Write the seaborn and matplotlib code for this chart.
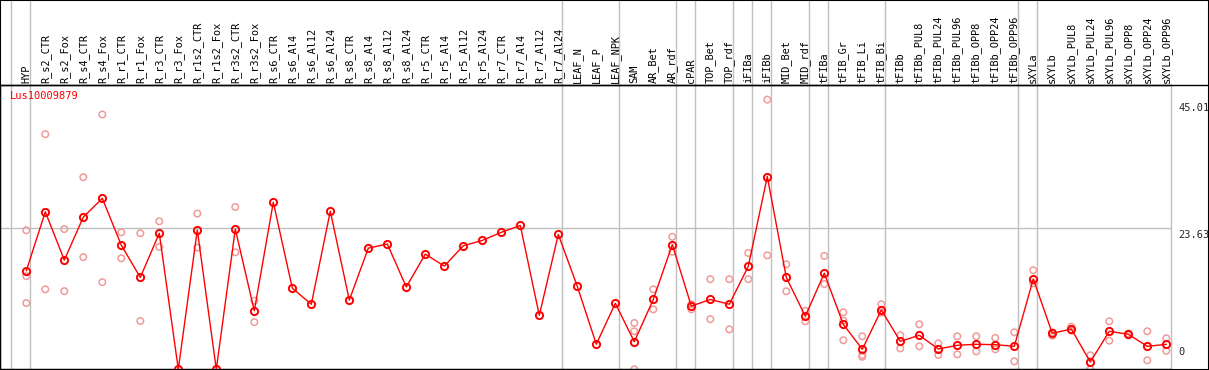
import numpy as np
import pandas as pd
import matplotlib
matplotlib.use("Agg")
import matplotlib.pyplot as plt
import matplotlib.transforms as mtransforms
from matplotlib.patches import Rectangle
import seaborn as sns

gene = "Lus10009879"

categories = [
    "HYP", "R_s2_CTR", "R_s2_Fox", "R_s4_CTR", "R_s4_Fox", "R_r1_CTR", "R_r1_Fox",
    "R_r3_CTR", "R_r3_Fox", "R_r1s2_CTR", "R_r1s2_Fox", "R_r3s2_CTR", "R_r3s2_Fox",
    "R_s6_CTR", "R_s6_Al4", "R_s6_Al12", "R_s6_Al24", "R_s8_CTR", "R_s8_Al4",
    "R_s8_Al12", "R_s8_Al24", "R_r5_CTR", "R_r5_Al4", "R_r5_Al12", "R_r5_Al24",
    "R_r7_CTR", "R_r7_Al4", "R_r7_Al12", "R_r7_Al24", "LEAF_N", "LEAF_P", "LEAF_NPK",
    "SAM", "AR_Bet", "AR_rdf", "cPAR", "TOP_Bet", "TOP_rdf", "iFIBa", "iFIBb",
    "MID_Bet", "MID_rdf", "tFIBa", "tFIB_Gr", "tFIB_Li", "tFIB_Bi", "tFIBb",
    "tFIBb_PUL8", "tFIBb_PUL24", "tFIBb_PUL96", "tFIBb_OPP8", "tFIBb_OPP24",
    "tFIBb_OPP96", "sXYLa", "sXYLb", "sXYLb_PUL8", "sXYLb_PUL24", "sXYLb_PUL96",
    "sXYLb_OPP8", "sXYLb_OPP24", "sXYLb_OPP96",
]

mean_expr = [
    16.5, 26.4, 18.3, 25.5, 28.65, 20.8, 15.4, 22.8, 0.0, 23.35, 0.0, 23.5, 9.8,
    28.0, 13.6, 10.9, 26.5, 11.6, 20.3, 21.0, 13.8, 19.3, 17.3, 20.7, 21.6,
    22.96, 24.1, 9.05, 22.6, 13.9, 4.2, 11.06,
    4.63, 11.7, 20.9, 10.6, 11.7, 10.9, 17.26, 32.3,
    15.4, 8.9, 16.1, 7.54, 3.35, 9.94, 4.69,
    5.7, 3.4, 4.02, 4.19, 4.13,
    3.85, 15.13, 6.03, 6.75, 1.22, 6.37,
    5.87, 3.85, 4.19,
]

nan = np.nan
rep1 = [
    23.3, 39.4, 23.5, 32.2, 42.7, 22.96, 22.8, 24.8, nan, 26.1, nan, 27.2, 11.5,
    nan, nan, nan, nan, nan, nan, nan, nan, nan, nan, nan, nan,
    nan, nan, nan, nan, nan, nan, nan,
    7.76, 13.4, 22.2, 10.9, 15.1, 15.1, 19.5, 45.2,
    17.6, 9.8, 19.0, 9.55, 5.53, 10.9, 5.7,
    7.54, 4.36, 5.53, 5.53, 5.25,
    6.2, 16.6, 6.2, 7.14, 2.35, 8.04,
    6.0, 6.37, 5.2,
]
rep2 = [
    15.6, 13.4, 13.1, 18.8, 14.6, 18.6, 8.1, 20.5, nan, 20.4, nan, 19.6, 7.9,
    nan, nan, nan, nan, nan, nan, nan, nan, nan, nan, nan, nan,
    nan, nan, nan, nan, nan, nan, nan,
    6.37, 10.05, 19.7, 10.05, 8.4, 6.7, 15.1, 19.1,
    13.07, 8.04, 14.3, 8.15, 2.4, 9.5, 3.5,
    3.85, 2.4, 2.5, 3.0, 3.35,
    1.34, 14.4, 5.64, 6.47, 0.0, 4.8,
    5.7, 1.5, 3.1,
]
rep3 = [
    11.1, nan, nan, nan, nan, nan, nan, nan, nan, nan, nan, nan, nan,
    nan, nan, nan, nan, nan, nan, nan, nan, nan, nan, nan, nan,
    nan, nan, nan, nan, nan, nan, nan,
    0.0, nan, nan, nan, nan, nan, nan, nan,
    nan, nan, nan, 4.86, 2.1, nan, nan,
    nan, nan, nan, nan, nan,
    nan, nan, nan, nan, nan, nan,
    nan, nan, nan,
]

# group separators sit just right of these category indices
separators = [-0.82, 0.21, 28.21, 31.21, 34.21, 35.21, 37.21, 38.21, 39.21,
              41.21, 42.21, 45.21, 52.21, 53.21]
ytick_vals = [45.01, 23.63, 0]

idx = np.arange(len(categories))
means_df = pd.DataFrame({"pos": idx, "value": mean_expr})
reps_df = pd.DataFrame({
    "pos": np.tile(idx, 3),
    "value": rep1 + rep2 + rep3,
}).dropna()

sns.set_style("white")
plt.rcParams["font.family"] = ["DejaVu Sans Mono", "DejaVu Sans"]

W, H = 1209, 370
fig = plt.figure(figsize=(W / 100, H / 100), dpi=100)
ax_bottom = 0.7
ax_top = 85
ax = fig.add_axes([0, ax_bottom / H, 1171 / W, (H - ax_top - ax_bottom) / H])

grey = "#c0c0c0"
ax.axhline(23.63, color=grey, lw=1, zorder=0)

sns.scatterplot(data=reps_df, x="pos", y="value", ax=ax, marker="o", s=22,
                facecolor="none", edgecolor="#f09a9a", linewidth=1.1, zorder=2,
                legend=False)
sns.lineplot(data=means_df, x="pos", y="value", ax=ax, color="red", lw=1,
             marker="o", markersize=5.2, markerfacecolor="none",
             markeredgecolor="red", markeredgewidth=1.4, zorder=3)

ax.set_xlim(-26.3 / 19, (1171 - 26.3) / 19)
ax.set_ylim(0, (369.3 - 85) / 5.967)
ax.set_xticks([])
ax.set_yticks([])
ax.set_xlabel("")
ax.set_ylabel("")
for side in ["left", "top", "bottom"]:
    ax.spines[side].set_color("black")
    ax.spines[side].set_linewidth(1)
ax.spines["right"].set_color(grey)
ax.spines["right"].set_linewidth(1)

ax_h = H - ax_top - ax_bottom
trans_x = mtransforms.blended_transform_factory(ax.transData, ax.transAxes)
trans_y = mtransforms.blended_transform_factory(ax.transAxes, ax.transData)

ax.vlines(separators, 0, 1 + ax_top / ax_h, transform=trans_x, color=grey,
          lw=1, clip_on=False, zorder=0)

for i, name in enumerate(categories):
    ax.text(i, 1 + 2 / ax_h, name, transform=trans_x, rotation=90,
            ha="center", va="bottom", fontsize=7.4, color="black")

ax.text(10 / 1171, 1 - 6 / ax_h, gene, transform=ax.transAxes, color="red",
        fontsize=7.5, ha="left", va="top")

for v in ytick_vals:
    if v == 0:
        ax.text(1 + 7 / 1171, 2, "0", transform=trans_y, fontsize=7.5,
                ha="left", va="bottom", clip_on=False)
    else:
        ax.text(1 + 7 / 1171, v - 0.3, f"{v:.2f}", transform=trans_y,
                fontsize=7.5, ha="left", va="top", clip_on=False)

# outer frame and the header rule
fig.patches.append(Rectangle((0, 0), 1, 1, transform=fig.transFigure,
                             fill=False, edgecolor="black", lw=1.5))
fig.lines.append(plt.Line2D([0, 1], [(H - ax_top) / H] * 2,
                            transform=fig.transFigure, color="black", lw=1))

fig.savefig("out.png", dpi=100)
